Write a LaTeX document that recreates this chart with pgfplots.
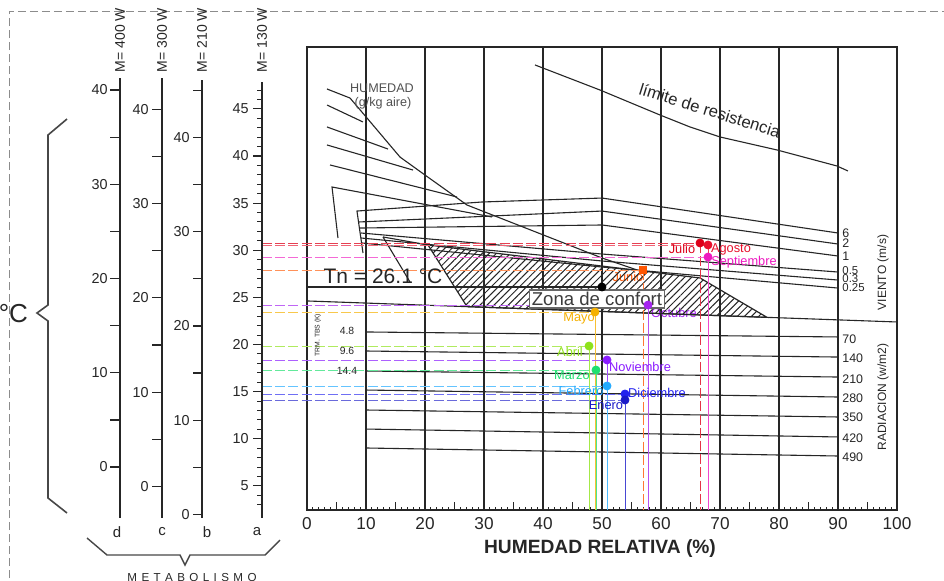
\documentclass[border=0pt]{standalone}
\usepackage{fontspec}
\setmainfont{Liberation Sans}
\usepackage{pgfplots}
\pgfplotsset{compat=1.18}
\usetikzlibrary{patterns.meta}
\newcommand{\fs}[1]{\fontsize{#1}{#1}\selectfont}
\newcommand{\ls}{\kern2.2pt}
\definecolor{ink}{HTML}{262626}
\definecolor{cJul}{HTML}{DD0018}
\definecolor{cAgo}{HTML}{E8102C}
\definecolor{cSep}{HTML}{EE18C0}
\definecolor{cJun}{HTML}{FF5500}
\definecolor{cOct}{HTML}{A524F0}
\definecolor{cMay}{HTML}{F5B000}
\definecolor{cAbr}{HTML}{8EE21A}
\definecolor{cNov}{HTML}{8A1CFF}
\definecolor{cMar}{HTML}{20E070}
\definecolor{cFeb}{HTML}{22AAFF}
\definecolor{cDic}{HTML}{2222EE}
\definecolor{cEne}{HTML}{1A1AC8}
\pgfplotsset{chart/.style={ink, line width=0.55pt, no markers, forget plot},
  hdash/.style={line width=0.4pt, dash pattern=on 5pt off 1.6pt, no markers, forget plot},
  vsol/.style={line width=0.4pt, no markers, forget plot},
  vdash/.style={line width=0.4pt, dash pattern=on 5pt off 1.6pt, no markers, forget plot},
  dot/.style={only marks, mark=*, mark size=2pt, forget plot}}
\begin{document}
\begin{tikzpicture}
\fill[white] (0,0) rectangle (472pt,-290pt);
\begin{axis}[
  at={(153.5pt,-255pt)}, anchor=south west,
  scale only axis, width=295pt, height=231.5pt,
  xmin=0, xmax=100, ymin=2.44, ymax=51.565,
  clip=false,
  axis line style={line width=0.6pt, ink},
  xtick={0,10,...,100}, ytick=\empty,
  xtick pos=left,
  minor x tick num=9,
  minor tick length=1.6pt,
  major tick length=1.6pt,
  extra x ticks={5,15,...,95},
  extra x tick labels={},
  extra x tick style={grid=none, major tick length=3.8pt},
  xmajorgrids,
  major grid style={line width=0.6pt, ink},
  every tick/.style={line width=0.5pt, ink},
  /pgf/number format/assume math mode=true,
  xticklabel style={font=\fs{8.6}, text=ink},
]
% radiation lines
\addplot[chart] coordinates {(10,21.33) (90,20.80)};
\addplot[chart] coordinates {(10,19.31) (90,18.67)};
\addplot[chart] coordinates {(10,17.19) (90,16.55)};
\addplot[chart] coordinates {(10,15.17) (90,14.43)};
\addplot[chart] coordinates {(10,13.05) (90,12.31)};
\addplot[chart] coordinates {(10,11.03) (90,10.19)};
\addplot[chart] coordinates {(10,9.02) (90,8.17)};
% humidity lines
\addplot[chart] coordinates {(3.39,47.11) (7.29,46.15) (10.17,44.03) (15.76,39.89) (20.0,37.98) (27.12,34.80) (50,29.18) (56.44,27.80)};
\addplot[chart] coordinates {(3.39,45.41) (9.49,43.61)};
\addplot[chart] coordinates {(3.39,43.08) (13.73,40.74)};
\addplot[chart] coordinates {(3.39,41.17) (17.97,38.51)};
\addplot[chart] coordinates {(3.90,39.05) (25.42,35.65)};
\addplot[chart] coordinates {(5.25,31.30) (4.24,36.71) (31.36,33.53)};
% wind lines
\addplot[chart] coordinates {(9.49,29.71) (8.47,34.16) (29.66,35.12) (50,35.54) (90,31.83)};
\addplot[chart] coordinates {(8.81,33.00) (50,34.16) (90,30.66)};
\addplot[chart] coordinates {(8.98,32.36) (50,32.68) (90,29.39)};
\addplot[chart] coordinates {(9.15,31.83) (50,29.60) (90,27.69)};
\addplot[chart] coordinates {(9.15,31.30) (50,28.86) (90,26.84)};
\addplot[chart] coordinates {(9.32,30.77) (50,28.22) (90,25.99)};
\addplot[chart] coordinates {(12.88,31.41) (20.51,30.56)};
\addplot[chart] coordinates {(12.88,31.41) (17.46,26.63)};
% lower line and Tn
\addplot[chart] coordinates {(0,24.62) (100,22.39)};
\addplot[chart] coordinates {(0,26.1) (50,26.1)};
% limite de resistencia
\addplot[chart] coordinates {(38.64,49.66) (49.66,47.00) (59.83,44.35) (64.92,43.08) (70.0,42.02) (79.66,40.64) (89.83,38.94) (91.69,38.41)};
% labels behind hatch
\node[font=\fs{6.4}, text=cJun] at (axis cs:54.4,27.16) {Junio};
\node[font=\fs{6.4}, text=cOct] at (axis cs:62.2,23.34) {Octubre};
% comfort zone
\addplot[draw=ink, line width=0.6pt, pattern={Lines[angle=45,distance=2.5pt,line width=0.5pt]}, pattern color=ink, forget plot] coordinates {(20.51,30.56) (66.61,27.06) (77.97,22.88) (27.12,24.02) (20.51,30.56)};
% months: horizontal dashed, vertical, point
\addplot[hdash, cJul!75] coordinates {(-7.63,30.77) (66.61,30.77)};
\addplot[vdash, cJul!80] coordinates {(66.61,30.77) (66.61,2.44)};
\addplot[hdash, cAgo!65] coordinates {(-7.63,30.56) (67.97,30.56)};
\addplot[vdash, cAgo!80] coordinates {(67.97,30.56) (67.97,2.44)};
\addplot[hdash, cSep!65] coordinates {(-7.63,29.28) (67.97,29.28)};
\addplot[vsol, cSep!80] coordinates {(67.97,29.28) (67.97,2.44)};
\addplot[hdash, cJun!65] coordinates {(-7.63,27.90) (56.95,27.90)};
\addplot[vdash, cJun!80] coordinates {(56.95,27.90) (56.95,2.44)};
\addplot[hdash, cOct!70] coordinates {(-7.63,24.19) (57.80,24.19)};
\addplot[vsol, cOct!80] coordinates {(57.80,24.19) (57.80,2.44)};
\addplot[hdash, cMay!70] coordinates {(-7.63,23.45) (48.81,23.45)};
\addplot[vsol, cMay!80] coordinates {(48.81,23.45) (48.81,2.44)};
\addplot[hdash, cAbr!70] coordinates {(-7.63,19.84) (47.80,19.84)};
\addplot[vsol, cAbr!80] coordinates {(47.80,19.84) (47.80,2.44)};
\addplot[hdash, cNov!70] coordinates {(-7.63,18.36) (50.85,18.36)};
\addplot[vsol, cNov!80] coordinates {(50.85,18.36) (50.85,2.44)};
\addplot[hdash, cMar!70] coordinates {(-7.63,17.29) (48.98,17.29)};
\addplot[vsol, cMar!80] coordinates {(48.98,17.29) (48.98,2.44)};
\addplot[hdash, cFeb!70] coordinates {(-7.63,15.60) (50.85,15.60)};
\addplot[vsol, cFeb!80] coordinates {(50.85,15.60) (50.85,2.44)};
\addplot[hdash, cDic!65] coordinates {(-7.63,14.75) (53.90,14.75)};
\addplot[vsol, cDic!80] coordinates {(53.90,14.75) (53.90,2.44)};
\addplot[hdash, cEne!65] coordinates {(-7.63,14.11) (53.90,14.11)};
\addplot[vsol, cEne!80] coordinates {(53.90,14.11) (53.90,2.44)};
% points
\addplot[dot, cJul] coordinates {(66.61,30.77)};
\addplot[dot, cAgo] coordinates {(67.97,30.56)};
\addplot[dot, cSep] coordinates {(67.97,29.28)};
\addplot[only marks, mark=square*, mark size=1.8pt, cJun, forget plot] coordinates {(56.95,27.90)};
\addplot[dot, cOct] coordinates {(57.80,24.19)};
\addplot[dot, cMay] coordinates {(48.81,23.45)};
\addplot[dot, cAbr] coordinates {(47.80,19.84)};
\addplot[dot, cNov] coordinates {(50.85,18.36)};
\addplot[dot, cMar] coordinates {(48.98,17.29)};
\addplot[dot, cFeb] coordinates {(50.85,15.60)};
\addplot[dot, cDic] coordinates {(53.90,14.75)};
\addplot[dot, cEne] coordinates {(53.90,14.11)};
\addplot[dot, black] coordinates {(50,26.1)};
% month labels
\node[font=\fs{6.4}, text=cJul] at (axis cs:63.56,30.13) {Julio};
\node[font=\fs{6.4}, text=cAgo] at (axis cs:71.86,30.13) {Agosto};
\node[font=\fs{6.4}, text=cSep] at (axis cs:74.07,28.75) {Septiembre};
\node[font=\fs{6.4}, text=cMay] at (axis cs:46.1,22.81) {Mayo};
\node[font=\fs{6.4}, text=cAbr] at (axis cs:44.58,19.20) {Abril};
\node[font=\fs{6.4}, text=cNov] at (axis cs:56.44,17.61) {Noviembre};
\node[font=\fs{6.4}, text=cMar] at (axis cs:44.9,16.76) {Marzo};
\node[font=\fs{6.4}, text=cFeb] at (axis cs:46.44,15.07) {Febrero};
\node[font=\fs{6.4}, text=cDic] at (axis cs:59.32,14.85) {Diciembre};
\node[font=\fs{6.4}, text=cEne] at (axis cs:50.68,13.58) {Enero};
% other texts
\node[font=\fs{10.5}, text=ink] at (axis cs:12.88,27.27) {Tn = 26.1 °C};
\node[font=\fs{9.3}, text=ink!90, draw=ink!70, fill=white, line width=0.6pt, inner sep=1.1pt] at (axis cs:49.15,24.83) {Zona de confort};
\node[font=\fs{6.3}, text=ink!80] at (axis cs:12.71,47.21) {HUMEDAD};
\node[font=\fs{6.3}, text=ink!80] at (axis cs:12.88,45.62) {(g/kg aire)};
\node[font=\fs{8.3}, text=ink, rotate=-17.4] at (axis cs:68.3,44.85) {límite de resistencia};
\node[font=\fs{6.2}, text=ink, anchor=west, inner sep=0pt] at (axis cs:90.68,31.83) {6};
\node[font=\fs{6.2}, text=ink, anchor=west, inner sep=0pt] at (axis cs:90.68,30.77) {2};
\node[font=\fs{6.2}, text=ink, anchor=west, inner sep=0pt] at (axis cs:90.68,29.39) {1};
\node[font=\fs{5.7}, text=ink, anchor=west, inner sep=0pt] at (axis cs:90.68,27.85) {0.5};
\node[font=\fs{5.7}, text=ink, anchor=west, inner sep=0pt] at (axis cs:90.68,26.95) {0.3};
\node[font=\fs{5.7}, text=ink, anchor=west, inner sep=0pt] at (axis cs:90.68,26.05) {0.25};
\node[font=\fs{6.2}, text=ink, anchor=west, inner sep=0pt] at (axis cs:90.68,20.58) {70};
\node[font=\fs{6.2}, text=ink, anchor=west, inner sep=0pt] at (axis cs:90.68,18.57) {140};
\node[font=\fs{6.2}, text=ink, anchor=west, inner sep=0pt] at (axis cs:90.68,16.34) {210};
\node[font=\fs{6.2}, text=ink, anchor=west, inner sep=0pt] at (axis cs:90.68,14.32) {280};
\node[font=\fs{6.2}, text=ink, anchor=west, inner sep=0pt] at (axis cs:90.68,12.31) {350};
\node[font=\fs{6.2}, text=ink, anchor=west, inner sep=0pt] at (axis cs:90.68,10.08) {420};
\node[font=\fs{6.2}, text=ink, anchor=west, inner sep=0pt] at (axis cs:90.68,8.06) {490};
\node[font=\fs{6}, text=ink, rotate=90] at (axis cs:97.63,27.64) {VIENTO (m/s)};
\node[font=\fs{6}, text=ink, rotate=90] at (axis cs:97.63,14.43) {RADIACION (w/m2)};
\node[font=\fs{5.2}, text=ink] at (axis cs:6.78,21.43) {4.8};
\node[font=\fs{5.2}, text=ink] at (axis cs:6.78,19.31) {9.6};
\node[font=\fs{5.2}, text=ink] at (axis cs:6.78,17.19) {14.4};
\node[font=\fs{3.4}, text=ink, rotate=90] at (axis cs:1.86,21.0) {TRM. TBS (K)};
\end{axis}
\begin{scope}[x=0.5pt, y=-0.5pt]
\draw[black!45, line width=0.5pt, dash pattern=on 4pt off 2pt] (9,590) -- (9,11) -- (950,11);
\draw[ink!85, line width=0.8pt, line join=miter] (67,119) -- (48,135) -- (48,305) -- (37,313) -- (48,321) -- (48,498) -- (67,513);
\node[anchor=east, font=\fs{13}, text=ink] at (35,314) {°C};
% scale lines
\draw[ink, line width=0.7pt] (120,78) -- (120,518);
\draw[ink, line width=0.7pt] (162,78) -- (162,518);
\draw[ink, line width=0.7pt] (202,80) -- (202,518);
\draw[ink, line width=0.7pt] (262,82) -- (262,518);
% scale d
\foreach \v in {0,5,...,40} \draw[ink, line width=0.6pt] (110,{533-(\v+7)*9.425}) -- (120,{533-(\v+7)*9.425});
\foreach \v in {0,10,...,40} \node[anchor=east, font=\fs{7.2}, text=ink, inner sep=0pt] at (108,{533-(\v+7)*9.425}) {\v};
% scale c
\foreach \v in {0,5,...,40} \draw[ink, line width=0.6pt] (152,{533-(\v+4.95)*9.425}) -- (162,{533-(\v+4.95)*9.425});
\foreach \v in {0,10,...,40} \node[anchor=east, font=\fs{7.2}, text=ink, inner sep=0pt] at (149,{533-(\v+4.95)*9.425}) {\v};
% scale b
\foreach \v in {0,5,...,45} \draw[ink, line width=0.6pt] (193,{533-(\v+1.97)*9.425}) -- (202,{533-(\v+1.97)*9.425});
\foreach \v in {0,10,...,40} \node[anchor=east, font=\fs{7.2}, text=ink, inner sep=0pt] at (190,{533-(\v+1.97)*9.425}) {\v};
% scale a
\foreach \v in {3,...,47} \draw[ink, line width=0.5pt] (257,{533-\v*9.425}) -- (262,{533-\v*9.425});
\foreach \v in {5,10,...,45} \draw[ink, line width=0.6pt] (253,{533-\v*9.425}) -- (262,{533-\v*9.425});
\foreach \v in {5,10,...,45} \node[anchor=east, font=\fs{7.2}, text=ink, inner sep=0pt] at (249,{533-\v*9.425}) {\v};
% metabolic labels
\node[rotate=90, font=\fs{7}, text=ink] at (120,40) {M= 400 W};
\node[rotate=90, font=\fs{7}, text=ink] at (162,40) {M= 300 W};
\node[rotate=90, font=\fs{7}, text=ink] at (202,40) {M= 210 W};
\node[rotate=90, font=\fs{7}, text=ink] at (262,40) {M= 130 W};
\node[font=\fs{7.5}, text=ink] at (117,532) {d};
\node[font=\fs{7.5}, text=ink] at (162,532) {c};
\node[font=\fs{7.5}, text=ink] at (207,532) {b};
\node[font=\fs{7.5}, text=ink] at (257,532) {a};
\draw[ink!85, line width=0.7pt, line join=miter] (87,538) -- (107,555) -- (180,555) -- (185,565) -- (190,555) -- (265,555) -- (280,540);
\node[anchor=north, font=\fs{5.8}, text=ink, inner sep=0pt] at (192,573) {M\ls E\ls T\ls A\ls B\ls O\ls L\ls I\ls S\ls M\ls O};
\node[font=\bfseries\fs{9.6}, text=ink] at (600,549) {HUMEDAD RELATIVA (\%)};
\end{scope}
\pgfresetboundingbox
\path[use as bounding box] (0,0) rectangle (472pt,-290pt);
\end{tikzpicture}
\end{document}
